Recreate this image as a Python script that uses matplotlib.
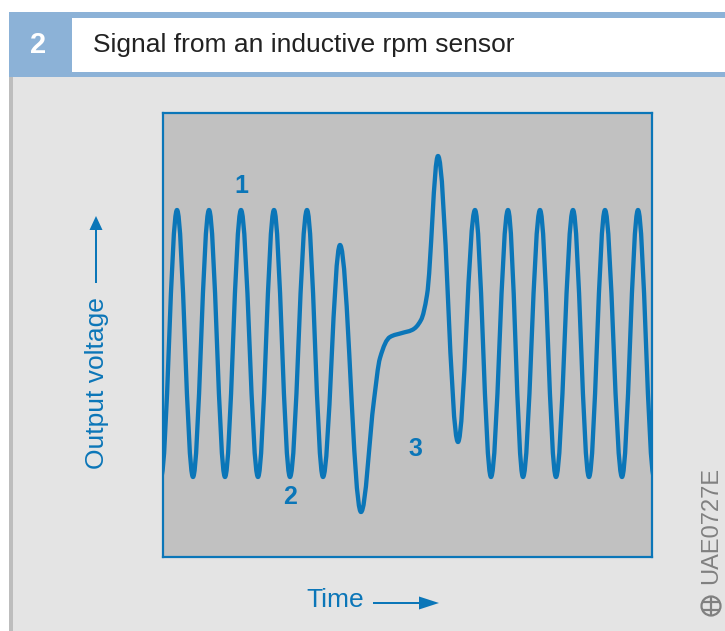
import matplotlib
matplotlib.use("Agg")
import matplotlib.pyplot as plt
from matplotlib.patches import Rectangle, PathPatch, Circle, FancyArrow
from matplotlib.path import Path

t_pts = [-2, 14, 30, 46, 62, 78, 95, 111, 127, 144, 160, 177, 198,
         211, 217, 227, 239, 249, 258, 264, 275, 295,
         312, 328, 345, 360, 377, 393, 410, 426, 442, 459, 475, 491]
v_pts = [80, 347, 80, 347, 80, 347, 80, 347, 80, 347, 80, 312, 45,
         157, 199, 220, 224, 227, 237, 262, 401, 115,
         347, 80, 347, 80, 347, 80, 347, 80, 347, 80, 347, 80]

title = "Signal from an inductive rpm sensor"
fig_no = "2"
marks = ["1", "2", "3"]
xlabel = "Time"
ylabel = "Output voltage"
code = "UAE0727E"

blue = "#0b76b8"
font = ["Liberation Sans", "DejaVu Sans"]


def slopes(t, v):
    # monotone (Fritsch-Carlson) tangents so the curve never overshoots
    h = [t[i + 1] - t[i] for i in range(len(t) - 1)]
    d = [(v[i + 1] - v[i]) / h[i] for i in range(len(h))]
    m = [0.0] * len(t)
    for i in range(1, len(t) - 1):
        if d[i - 1] * d[i] > 0:
            w1 = 2 * h[i] + h[i - 1]
            w2 = h[i] + 2 * h[i - 1]
            m[i] = (w1 + w2) / (w1 / d[i - 1] + w2 / d[i])
    return m


fig = plt.figure(figsize=(7.25, 6.31), dpi=100)

# page decoration in pixel coordinates
bg = fig.add_axes([0, 0, 1, 1])
bg.set_xlim(0, 725)
bg.set_ylim(631, 0)
bg.axis("off")
bg.add_patch(Rectangle((9, 76), 716, 555, color="#e4e4e4", lw=0))
bg.add_patch(Rectangle((9, 76), 4, 555, color="#bdbdbd", lw=0))
bg.add_patch(Rectangle((9, 12), 716, 65, color="#8cb2d7", lw=0))
bg.add_patch(Rectangle((72, 18), 653, 54, color="white", lw=0))
bg.text(38, 45, fig_no, color="white", fontsize=21, fontweight="bold",
        ha="center", va="center", family=font)
bg.text(93, 45, title, color="#222222", fontsize=19, ha="left", va="center",
        family=font)

bg.text(97, 383, ylabel, color=blue, fontsize=19, rotation=90,
        ha="center", va="center", family=font)
bg.add_patch(FancyArrow(96, 283, 0, -67, width=2, head_width=13, head_length=14,
                        length_includes_head=True, color=blue, lw=0))
bg.text(335, 600, xlabel, color=blue, fontsize=19, ha="center", va="center",
        family=font)
bg.add_patch(FancyArrow(373, 603, 66, 0, width=2, head_width=13, head_length=20,
                        length_includes_head=True, color=blue, lw=0))

bg.text(711, 525, code, color="#808080", fontsize=17, rotation=90,
        ha="center", va="center", family=font)
bg.add_patch(Circle((711, 606), 9.5, fill=False, ec="#808080", lw=1.6))
bg.plot([703, 719], [602, 602], color="#808080", lw=1.6)
bg.plot([703, 719], [610, 610], color="#808080", lw=1.6)
bg.plot([711, 711], [598, 614], color="#808080", lw=1.6)

# signal plot
ax = fig.add_axes([163 / 725, (631 - 557) / 631, 489 / 725, 444 / 631])
ax.set_facecolor("#c1c1c1")
ax.set_xlim(0, 489)
ax.set_ylim(0, 444)
ax.set_xticks([])
ax.set_yticks([])
for sp in ax.spines.values():
    sp.set_color(blue)
    sp.set_linewidth(1.6)

k = 0.36
m = slopes(t_pts, v_pts)
verts = [(t_pts[0], v_pts[0])]
codes = [Path.MOVETO]
for i in range(len(t_pts) - 1):
    t0, v0, t1, v1 = t_pts[i], v_pts[i], t_pts[i + 1], v_pts[i + 1]
    dt = t1 - t0
    verts += [(t0 + k * dt, v0 + k * dt * m[i]),
              (t1 - k * dt, v1 - k * dt * m[i + 1]),
              (t1, v1)]
    codes += [Path.CURVE4] * 3
ax.add_patch(PathPatch(Path(verts, codes), fill=False, ec=blue, lw=3.1,
                       capstyle="round", joinstyle="round"))

for s, (x, y) in zip(marks, [(241, 186), (290, 497), (415, 449)]):
    ax.text(x, y, s, color=blue, fontsize=18, fontweight="bold",
            ha="center", va="center", family=font, transform=bg.transData)

fig.savefig("out.png", dpi=100)
